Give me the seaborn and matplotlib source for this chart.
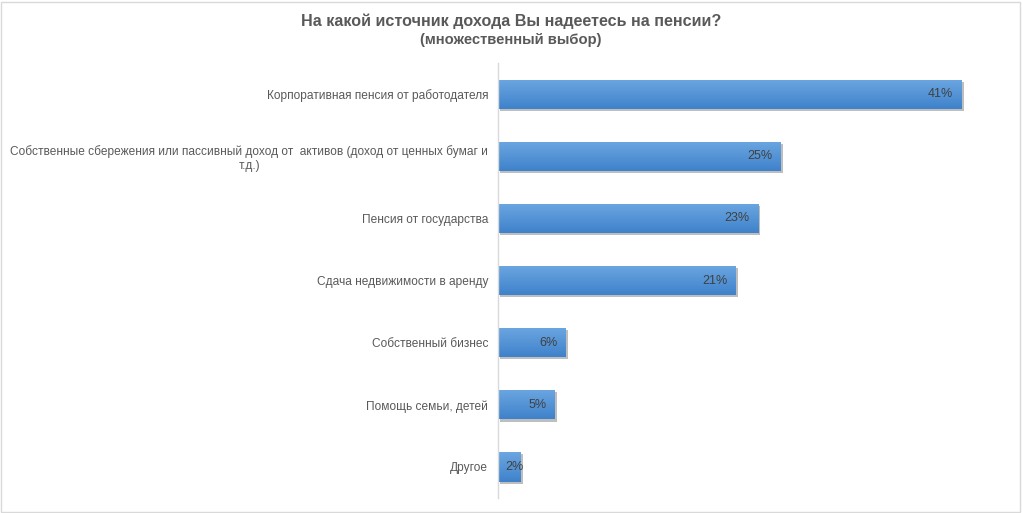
import numpy as np
import pandas as pd
import seaborn as sns
import matplotlib.pyplot as plt
import matplotlib.patheffects as pe
from matplotlib.colors import LinearSegmentedColormap

categories = [
    'Корпоративная пенсия от работодателя',
    'Собственные сбережения или пассивный доход от  активов (доход от ценных бумаг и\nт.д.)',
    'Пенсия от государства',
    'Сдача недвижимости в аренду',
    'Собственный бизнес',
    'Помощь семьи, детей',
    'Другое',
]
shares = [41, 25, 23, 21, 6, 5, 2]
value_labels = ['41%', '25%', '23%', '21%', '6%', '5%', '2%']

sns.set_style('white')
plt.rcParams['font.family'] = ['Liberation Sans', 'DejaVu Sans']

df = pd.DataFrame({'source': categories, 'share': shares})

fig = plt.figure(figsize=(10.22, 5.13), dpi=100)
ax = fig.add_axes([0.4873, 0.0292, 0.4980, 0.8478])

sns.barplot(data=df, y='source', x='share', orient='h', color='#5596d8',
            width=0.47, saturation=1, ax=ax, order=categories)

# vertical gradient on each bar, clipped to the bar itself
grad = LinearSegmentedColormap.from_list('bar', ['#6ba6e0', '#3f82cb'])
for p in ax.patches:
    p.set_edgecolor('none')
    p.set_path_effects([pe.SimplePatchShadow(offset=(1.5, -1.5), shadow_rgbFace='#7f7f7f', alpha=0.5),
                        pe.Normal()])
    x0, y0 = p.get_x(), p.get_y()
    w, h = p.get_width(), p.get_height()
    im = ax.imshow(np.linspace(0, 1, 50).reshape(-1, 1), cmap=grad, aspect='auto',
                   extent=(x0, x0 + w, y0 + h, y0), origin='upper', zorder=p.get_zorder() + 0.1)
    im.set_clip_path(p)

ax.set_xlim(0, 45)
ax.set_ylim(len(categories) - 0.5, -0.5)

for i, (v, lab) in enumerate(zip(shares, value_labels)):
    if v < 4:
        # too narrow for the label: start it just inside the bar
        ax.annotate(lab, (0, i), xytext=(5, 0), textcoords='offset points',
                    ha='left', va='center', fontsize=9, color='#404040', zorder=5)
    else:
        ax.annotate(lab, (v, i), xytext=(-6, 0), textcoords='offset points',
                    ha='right', va='center', fontsize=9, color='#404040', zorder=5)

ax.set_xlabel('')
ax.set_ylabel('')
ax.set_xticks([])
ax.tick_params(axis='y', length=0, pad=7, labelsize=8.6, labelcolor='#595959')
for t in ax.get_yticklabels():
    t.set_multialignment('center')

for s in ['top', 'right', 'bottom']:
    ax.spines[s].set_visible(False)
ax.spines['left'].set_color('#d9d9d9')
ax.spines['left'].set_linewidth(1)

fig.text(0.5, 0.958, 'На какой источник дохода Вы надеетесь на пенсии?', ha='center', va='center',
         fontsize=11.6, fontweight='bold', color='#595959')
fig.text(0.5, 0.923, '(множественный выбор)', ha='center', va='center',
         fontsize=10.6, fontweight='bold', color='#595959')

frame = plt.Rectangle((0.001, 0.002), 0.997, 0.995, transform=fig.transFigure,
                      fill=False, edgecolor='#d9d9d9', linewidth=1)
fig.patches.append(frame)

plt.savefig('out.png', dpi=100)
